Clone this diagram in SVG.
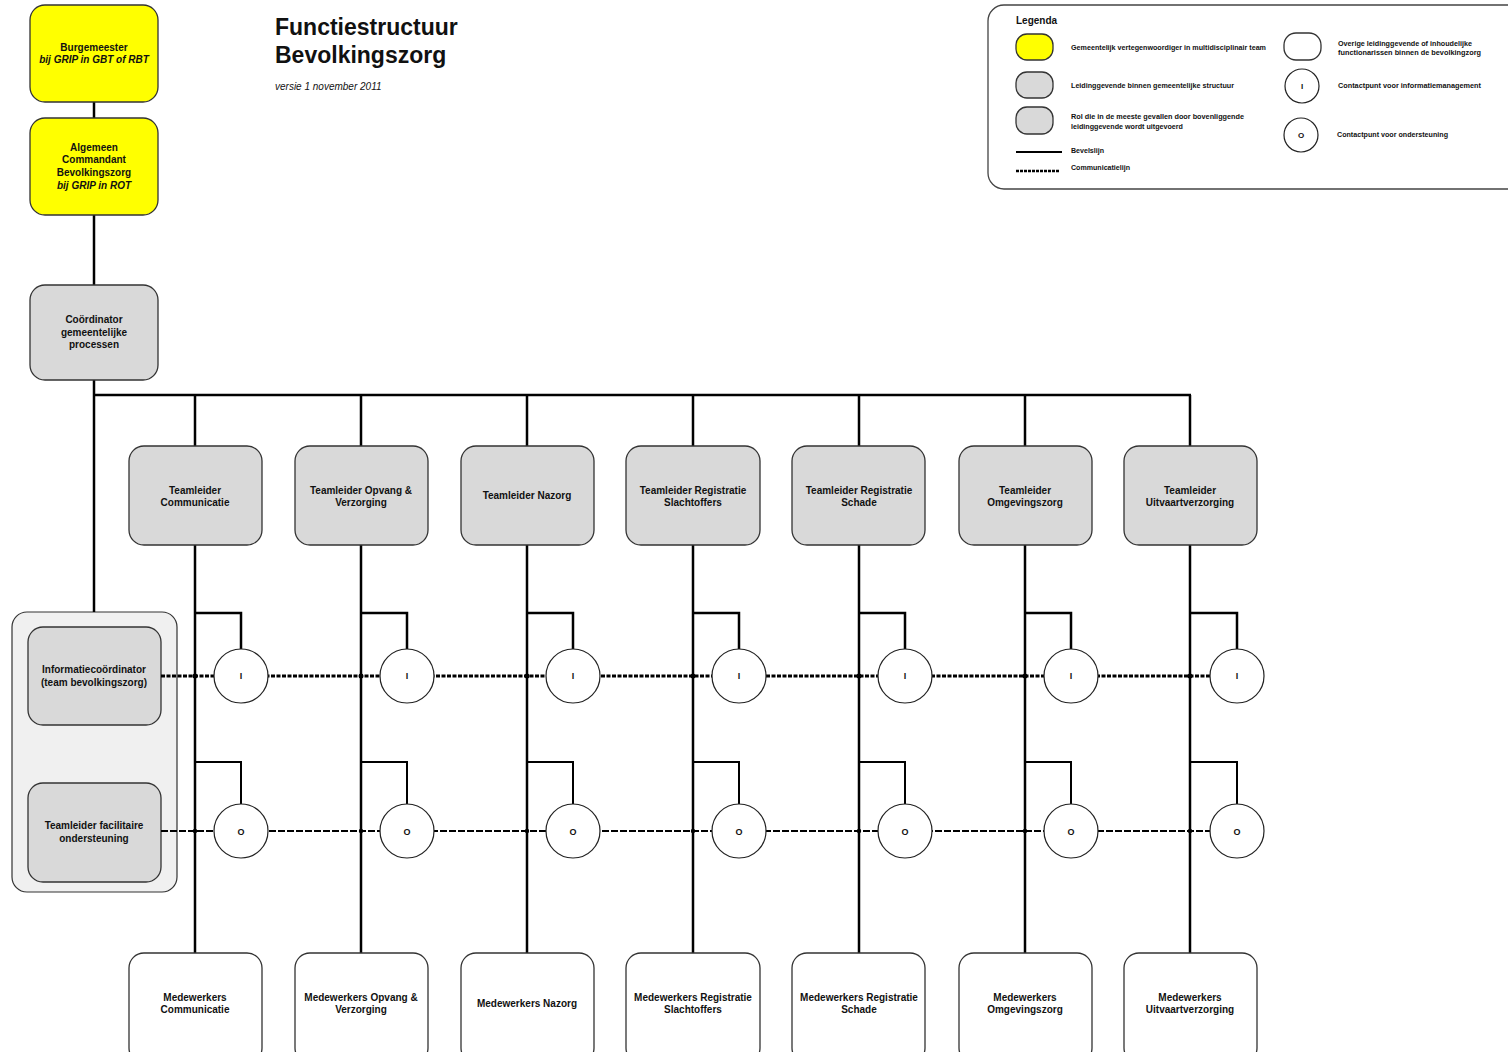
<svg xmlns="http://www.w3.org/2000/svg" width="1508" height="1052" viewBox="0 0 1508 1052">
<style>
text{font-family:"Liberation Sans",Arial,sans-serif;fill:#111;}
.n{font-size:10px;font-weight:bold;text-anchor:middle;}
.i{font-style:italic;}
.lg{font-size:6.5px;font-weight:bold;}
.yel{fill:#ffff00;stroke:#333;stroke-width:1.3;}
.gry{fill:#d9d9d9;stroke:#333;stroke-width:1.3;}
.wht{fill:#ffffff;stroke:#333;stroke-width:1.3;}
.circ{fill:#ffffff;stroke:#222;stroke-width:1.2;}
.cl{font-size:9px;font-weight:bold;text-anchor:middle;}
.bev{stroke:#000;stroke-width:2.5;fill:none;}
.bev2{stroke:#000;stroke-width:2;fill:none;}
.comI{stroke:#000;stroke-width:3;fill:none;stroke-dasharray:4 1.5;}
.comO{stroke:#000;stroke-width:2;fill:none;stroke-dasharray:7 2;}
</style>

<g id="title">
<text x="275" y="35" style="font-size:23px;font-weight:bold;">Functiestructuur</text>
<text x="275" y="63" style="font-size:23px;font-weight:bold;">Bevolkingszorg</text>
<text x="275" y="90" style="font-size:10px;font-style:italic;">versie 1 november 2011</text>
</g>

<g id="ondersteuningsgroep">
<rect x="12" y="612" width="165" height="280" rx="15" fill="#f0f0f0" stroke="#333" stroke-width="1.2"/>
<g id="informatiecoordinator">
<rect class="gry" x="28" y="627" width="133" height="98" rx="15"/>
<text class="n" x="94" y="673">Informatiecoördinator</text>
<text class="n" x="94" y="686">(team bevolkingszorg)</text>
</g>
<g id="teamleider-facilitaire">
<rect class="gry" x="28" y="783" width="133" height="99" rx="15"/>
<text class="n" x="94" y="829">Teamleider facilitaire</text>
<text class="n" x="94" y="842">ondersteuning</text>
</g>
</g>

<g id="connectors">
<line class="bev" x1="94" y1="102" x2="94" y2="118"/>
<line class="bev" x1="94" y1="215" x2="94" y2="285"/>
<line class="bev" x1="94" y1="380" x2="94" y2="612"/>
<line class="bev" x1="93" y1="395" x2="1191" y2="395"/>
<path class="bev" d="M195 395V446M361 395V446M527 395V446M693 395V446M859 395V446M1025 395V446M1190 395V446"/>
<path class="bev" d="M195 545V953M361 545V953M527 545V953M693 545V953M859 545V953M1025 545V953M1190 545V953"/>
<path class="bev" d="M195 613H241V649M361 613H407V649M527 613H573V649M693 613H739V649M859 613H905V649M1025 613H1071V649M1190 613H1237V649"/>
<path class="bev2" d="M195 762H241V804M361 762H407V804M527 762H573V804M693 762H739V804M859 762H905V804M1025 762H1071V804M1190 762H1237V804"/>
<line class="comI" x1="161" y1="676" x2="1212" y2="676"/>
<line class="comO" x1="161" y1="831" x2="1212" y2="831"/>
<g fill="#000">
<circle cx="195" cy="676" r="2.5"/><circle cx="361" cy="676" r="2.5"/><circle cx="527" cy="676" r="2.5"/><circle cx="693" cy="676" r="2.5"/><circle cx="859" cy="676" r="2.5"/><circle cx="1025" cy="676" r="2.5"/><circle cx="1190" cy="676" r="2.5"/>
<circle cx="195" cy="831" r="2.2"/><circle cx="361" cy="831" r="2.2"/><circle cx="527" cy="831" r="2.2"/><circle cx="693" cy="831" r="2.2"/><circle cx="859" cy="831" r="2.2"/><circle cx="1025" cy="831" r="2.2"/><circle cx="1190" cy="831" r="2.2"/>
</g>
</g>

<g id="burgemeester">
<rect class="yel" x="30" y="5" width="128" height="97" rx="15"/>
<text class="n" x="94" y="51">Burgemeester</text>
<text class="n i" x="94" y="63">bij GRIP in GBT of RBT</text>
</g>
<g id="algemeen-commandant">
<rect class="yel" x="30" y="118" width="128" height="97" rx="15"/>
<text class="n" x="94" y="151">Algemeen</text>
<text class="n" x="94" y="163">Commandant</text>
<text class="n" x="94" y="176">Bevolkingszorg</text>
<text class="n i" x="94" y="189">bij GRIP in ROT</text>
</g>
<g id="coordinator">
<rect class="gry" x="30" y="285" width="128" height="95" rx="15"/>
<text class="n" x="94" y="323">Coördinator</text>
<text class="n" x="94" y="336">gemeentelijke</text>
<text class="n" x="94" y="348">processen</text>
</g>

<g id="tl-communicatie"><rect class="gry" x="129" y="446" width="133" height="99" rx="15"/><text class="n" x="195" y="494">Teamleider</text><text class="n" x="195" y="506">Communicatie</text></g>
<g id="tl-opvang"><rect class="gry" x="295" y="446" width="133" height="99" rx="15"/><text class="n" x="361" y="494">Teamleider Opvang &amp;</text><text class="n" x="361" y="506">Verzorging</text></g>
<g id="tl-nazorg"><rect class="gry" x="461" y="446" width="133" height="99" rx="15"/><text class="n" x="527" y="499">Teamleider Nazorg</text></g>
<g id="tl-slachtoffers"><rect class="gry" x="626" y="446" width="134" height="99" rx="15"/><text class="n" x="693" y="494">Teamleider Registratie</text><text class="n" x="693" y="506">Slachtoffers</text></g>
<g id="tl-schade"><rect class="gry" x="792" y="446" width="133" height="99" rx="15"/><text class="n" x="859" y="494">Teamleider Registratie</text><text class="n" x="859" y="506">Schade</text></g>
<g id="tl-omgevingszorg"><rect class="gry" x="959" y="446" width="133" height="99" rx="15"/><text class="n" x="1025" y="494">Teamleider</text><text class="n" x="1025" y="506">Omgevingszorg</text></g>
<g id="tl-uitvaart"><rect class="gry" x="1124" y="446" width="133" height="99" rx="15"/><text class="n" x="1190" y="494">Teamleider</text><text class="n" x="1190" y="506">Uitvaartverzorging</text></g>

<g id="contact-I">
<g><circle class="circ" cx="241" cy="676" r="27"/><text class="cl" x="241" y="679">I</text></g>
<g><circle class="circ" cx="407" cy="676" r="27"/><text class="cl" x="407" y="679">I</text></g>
<g><circle class="circ" cx="573" cy="676" r="27"/><text class="cl" x="573" y="679">I</text></g>
<g><circle class="circ" cx="739" cy="676" r="27"/><text class="cl" x="739" y="679">I</text></g>
<g><circle class="circ" cx="905" cy="676" r="27"/><text class="cl" x="905" y="679">I</text></g>
<g><circle class="circ" cx="1071" cy="676" r="27"/><text class="cl" x="1071" y="679">I</text></g>
<g><circle class="circ" cx="1237" cy="676" r="27"/><text class="cl" x="1237" y="679">I</text></g>
</g>
<g id="contact-O">
<g><circle class="circ" cx="241" cy="831" r="27"/><text class="cl" x="241" y="835">O</text></g>
<g><circle class="circ" cx="407" cy="831" r="27"/><text class="cl" x="407" y="835">O</text></g>
<g><circle class="circ" cx="573" cy="831" r="27"/><text class="cl" x="573" y="835">O</text></g>
<g><circle class="circ" cx="739" cy="831" r="27"/><text class="cl" x="739" y="835">O</text></g>
<g><circle class="circ" cx="905" cy="831" r="27"/><text class="cl" x="905" y="835">O</text></g>
<g><circle class="circ" cx="1071" cy="831" r="27"/><text class="cl" x="1071" y="835">O</text></g>
<g><circle class="circ" cx="1237" cy="831" r="27"/><text class="cl" x="1237" y="835">O</text></g>
</g>

<g id="mw-communicatie"><rect class="wht" x="129" y="953" width="133" height="110" rx="15"/><text class="n" x="195" y="1001">Medewerkers</text><text class="n" x="195" y="1013">Communicatie</text></g>
<g id="mw-opvang"><rect class="wht" x="295" y="953" width="133" height="110" rx="15"/><text class="n" x="361" y="1001">Medewerkers Opvang &amp;</text><text class="n" x="361" y="1013">Verzorging</text></g>
<g id="mw-nazorg"><rect class="wht" x="461" y="953" width="133" height="110" rx="15"/><text class="n" x="527" y="1007">Medewerkers Nazorg</text></g>
<g id="mw-slachtoffers"><rect class="wht" x="626" y="953" width="134" height="110" rx="15"/><text class="n" x="693" y="1001">Medewerkers Registratie</text><text class="n" x="693" y="1013">Slachtoffers</text></g>
<g id="mw-schade"><rect class="wht" x="792" y="953" width="133" height="110" rx="15"/><text class="n" x="859" y="1001">Medewerkers Registratie</text><text class="n" x="859" y="1013">Schade</text></g>
<g id="mw-omgevingszorg"><rect class="wht" x="959" y="953" width="133" height="110" rx="15"/><text class="n" x="1025" y="1001">Medewerkers</text><text class="n" x="1025" y="1013">Omgevingszorg</text></g>
<g id="mw-uitvaart"><rect class="wht" x="1124" y="953" width="133" height="110" rx="15"/><text class="n" x="1190" y="1001">Medewerkers</text><text class="n" x="1190" y="1013">Uitvaartverzorging</text></g>

<g id="legenda">
<rect x="988" y="5" width="560" height="184" rx="16" fill="#fff" stroke="#444" stroke-width="1.3"/>
<text x="1016" y="24" style="font-size:10px;font-weight:bold;">Legenda</text>
<rect class="yel" x="1016" y="34" width="37" height="26" rx="11"/>
<rect class="gry" x="1016" y="72" width="37" height="26" rx="11"/>
<rect class="gry" x="1016" y="107" width="37" height="27" rx="11"/>
<line x1="1016" y1="152" x2="1062" y2="152" stroke="#000" stroke-width="2"/>
<line x1="1016" y1="171" x2="1060" y2="171" stroke="#000" stroke-width="2.5" stroke-dasharray="3 1"/>
<text class="lg" x="1071" y="50" textLength="195" lengthAdjust="spacingAndGlyphs">Gemeentelijk vertegenwoordiger in multidisciplinair team</text>
<text class="lg" x="1071" y="88" textLength="163" lengthAdjust="spacingAndGlyphs">Leidinggevende binnen gemeentelijke structuur</text>
<text class="lg" x="1071" y="119" textLength="173" lengthAdjust="spacingAndGlyphs">Rol die in de meeste gevallen door bovenliggende</text>
<text class="lg" x="1071" y="129" textLength="112" lengthAdjust="spacingAndGlyphs">leidinggevende wordt uitgevoerd</text>
<text class="lg" x="1071" y="153" textLength="33" lengthAdjust="spacingAndGlyphs">Bevelslijn</text>
<text class="lg" x="1071" y="170" textLength="59" lengthAdjust="spacingAndGlyphs">Communicatielijn</text>
<rect class="wht" x="1284" y="33" width="37" height="27" rx="12"/>
<circle class="circ" cx="1302" cy="86" r="17"/>
<text class="cl" x="1302" y="89" style="font-size:8px;">I</text>
<circle class="circ" cx="1301" cy="135" r="17"/>
<text class="cl" x="1301" y="138" style="font-size:8px;">O</text>
<text class="lg" x="1338" y="46" textLength="134" lengthAdjust="spacingAndGlyphs">Overige leidinggevende of inhoudelijke</text>
<text class="lg" x="1338" y="55" textLength="143" lengthAdjust="spacingAndGlyphs">functionarissen binnen de bevolkingzorg</text>
<text class="lg" x="1338" y="88" textLength="143" lengthAdjust="spacingAndGlyphs">Contactpunt voor informatiemanagement</text>
<text class="lg" x="1337" y="137" textLength="111" lengthAdjust="spacingAndGlyphs">Contactpunt voor ondersteuning</text>
</g>
</svg>
